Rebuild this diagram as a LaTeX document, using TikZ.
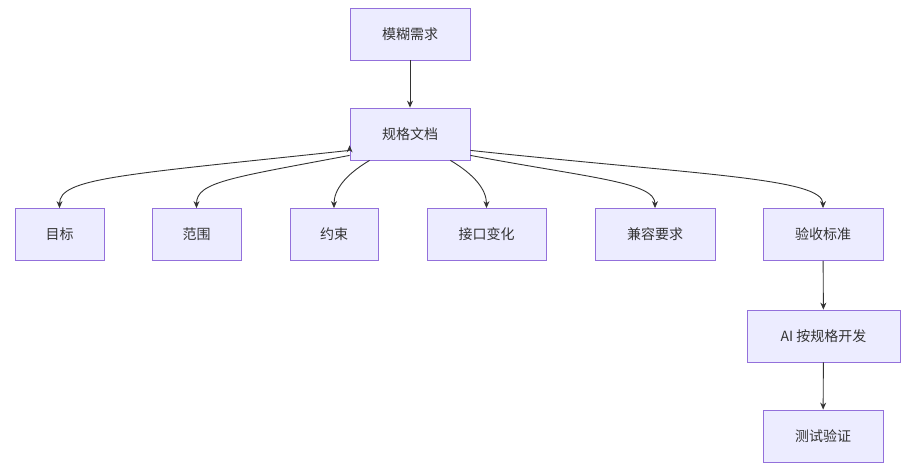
\documentclass[tikz,border=0pt]{standalone}
\usepackage{fontspec}
\setmainfont{Noto Sans CJK SC}
\usetikzlibrary{arrows.meta}
\definecolor{nf}{HTML}{ECECFF}
\definecolor{nb}{HTML}{9370DB}
\definecolor{ed}{HTML}{333333}
\begin{document}
\begin{tikzpicture}[x=1pt,y=-1pt,
  box/.style={draw=nb,fill=nf,line width=0.8pt,minimum height=52pt,inner sep=0pt,font=\fontsize{14}{16}\selectfont,text=ed},
  arr/.style={draw=ed,line width=0.9pt,-{Stealth[length=7pt,width=6pt]}}]
\useasboundingbox (0,0) rectangle (915,470);
\node[box,minimum width=120pt] (a) at (410,34) {模糊需求};
\node[box,minimum width=120pt] (b) at (410,134) {规格文档};
\node[box,minimum width=89pt] (c1) at (59.5,234.5) {目标};
\node[box,minimum width=89pt] (c2) at (196.5,234.5) {范围};
\node[box,minimum width=88pt] (c3) at (334,234.5) {约束};
\node[box,minimum width=119pt] (c4) at (486.5,234.5) {接口变化};
\node[box,minimum width=120pt] (c5) at (655,234.5) {兼容要求};
\node[box,minimum width=120pt] (c6) at (823,234.5) {验收标准};
\node[box,minimum width=153pt] (d) at (823.5,336) {AI 按规格开发};
\node[box,minimum width=120pt] (e) at (823,436) {测试验证};
\draw[arr] (a) -- (b);
\draw[arr] (b.south west) ++(0,-15) coordinate (s1);
\draw[arr] ([yshift=10pt]b.south west) .. controls (120,175) and (59.5,178) .. (c1.north);
\draw[arr] ([yshift=5pt]b.south west) .. controls (230,178) and (196.5,182) .. (c2.north);
\draw[arr] ([xshift=20pt]b.south west) .. controls (345,175) and (334,190) .. (c3.north);
\draw[arr] ([xshift=-20pt]b.south east) .. controls (475,175) and (486.5,190) .. (c4.north);
\draw[arr] ([yshift=5pt]b.south east) .. controls (590,178) and (655,182) .. (c5.north);
\draw[arr] ([yshift=10pt]b.south east) .. controls (700,175) and (823,178) .. (c6.north);
\draw[arr] (c6) -- (d);
\draw[arr] (d) -- (e);
\end{tikzpicture}
\end{document}
